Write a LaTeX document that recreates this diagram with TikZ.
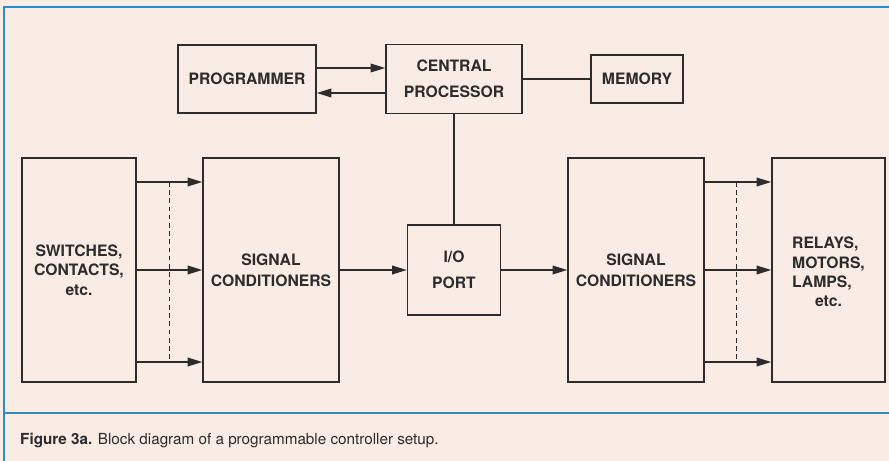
\documentclass[tikz,border=0pt]{standalone}
\usepackage{fontspec}
\setmainfont{TeX Gyre Heros}
\usepackage{tikz}
\usetikzlibrary{arrows.meta}

\definecolor{paper}{RGB}{248,236,228}
\definecolor{frameblue}{RGB}{46,139,201}
\definecolor{ink}{RGB}{45,43,43}

\begin{document}
\begin{tikzpicture}[
    block/.style = {draw=ink, line width=1.3pt, fill=paper, text=ink, align=center,
                    font=\fontsize{13.4}{16.5}\selectfont\bfseries, inner sep=0pt},
    sig/.style = {draw=ink, line width=1.3pt, -{Triangle[length=0.44cm,width=0.26cm]}},
    bus/.style = {draw=ink, line width=0.8pt, dash pattern=on 4pt off 3pt}]

    % Papier in modri okvir
    \fill[paper] (0,0) rectangle (26.67,-13.83);
    \useasboundingbox (0,0) rectangle (26.67,-13.83);
    \draw[frameblue, line width=1.6pt] (26.67,-0.21) -- (0.12,-0.21) -- (0.12,-13.83);
    \draw[frameblue, line width=1.6pt] (0.12,-12.39) -- (26.67,-12.39);

    % Bloki zgoraj
    \node[block, minimum width=4.14cm, minimum height=2.04cm] (prog) at (7.41,-2.37) {PROGRAMMER};
    \node[block, minimum width=4.08cm, minimum height=2.07cm, font=\fontsize{13.4}{22}\selectfont\bfseries] (cpu) at (13.62,-2.37) {CENTRAL\\PROCESSOR};
    \node[block, minimum width=2.76cm, minimum height=1.44cm] (mem) at (19.11,-2.37) {MEMORY};

    % Bloki spodaj
    \node[block, minimum width=3.42cm, minimum height=6.72cm] (sw) at (2.37,-8.10) {SWITCHES,\\CONTACTS,\\etc.};
    \node[block, minimum width=4.08cm, minimum height=6.72cm, font=\fontsize{13.4}{18}\selectfont\bfseries] (sc1) at (8.13,-8.10) {SIGNAL\\CONDITIONERS};
    \node[block, minimum width=2.79cm, minimum height=2.70cm, font=\fontsize{13.4}{22}\selectfont\bfseries] (io) at (13.62,-8.10) {I/O\\PORT};
    \node[block, minimum width=4.08cm, minimum height=6.72cm, font=\fontsize{13.4}{18}\selectfont\bfseries] (sc2) at (19.08,-8.10) {SIGNAL\\CONDITIONERS};
    \node[block, minimum width=3.39cm, minimum height=6.72cm] (act) at (24.855,-8.10) {};
    \node[block, draw=none, fill=none] (acttext) at ([yshift=-0.12cm]act.center)
        {\begin{tabular}{@{}l@{}}RELAYS,\\MOTORS,\\LAMPS,\\\multicolumn{1}{@{}c@{}}{etc.}\end{tabular}};

    % Povezave zgoraj
    \draw[sig] ([yshift=0.33cm]prog.east) -- ([yshift=0.33cm]cpu.west);
    \draw[sig] ([yshift=-0.42cm]cpu.west) -- ([yshift=-0.42cm]prog.east);
    \draw[draw=ink, line width=1.3pt] (cpu) -- (mem);
    \draw[draw=ink, line width=1.3pt] (cpu) -- (io);

    % Vhodi
    \draw[sig] ([yshift=2.64cm]sw.east) -- ([yshift=2.64cm]sc1.west);
    \draw[sig] (sw) -- (sc1);
    \draw[sig] ([yshift=-2.76cm]sw.east) -- ([yshift=-2.76cm]sc1.west);
    \draw[bus] (5.07,-5.46) -- (5.07,-10.80);

    % Sredina
    \draw[sig] (sc1) -- (io);
    \draw[sig] (io) -- (sc2);

    % Izhodi
    \draw[sig] ([yshift=2.64cm]sc2.east) -- ([yshift=2.64cm]act.west);
    \draw[sig] (sc2) -- (act);
    \draw[sig] ([yshift=-2.76cm]sc2.east) -- ([yshift=-2.76cm]act.west);
    \draw[bus] (22.08,-5.46) -- (22.08,-10.80);

    % Napis
    \node[anchor=west, text=ink, font=\fontsize{13.0}{15}\selectfont, inner sep=0pt] (cap) at (0.6,-13.2)
        {\textbf{Figure 3a.} Block diagram of a programmable controller setup.};

\end{tikzpicture}
\end{document}
